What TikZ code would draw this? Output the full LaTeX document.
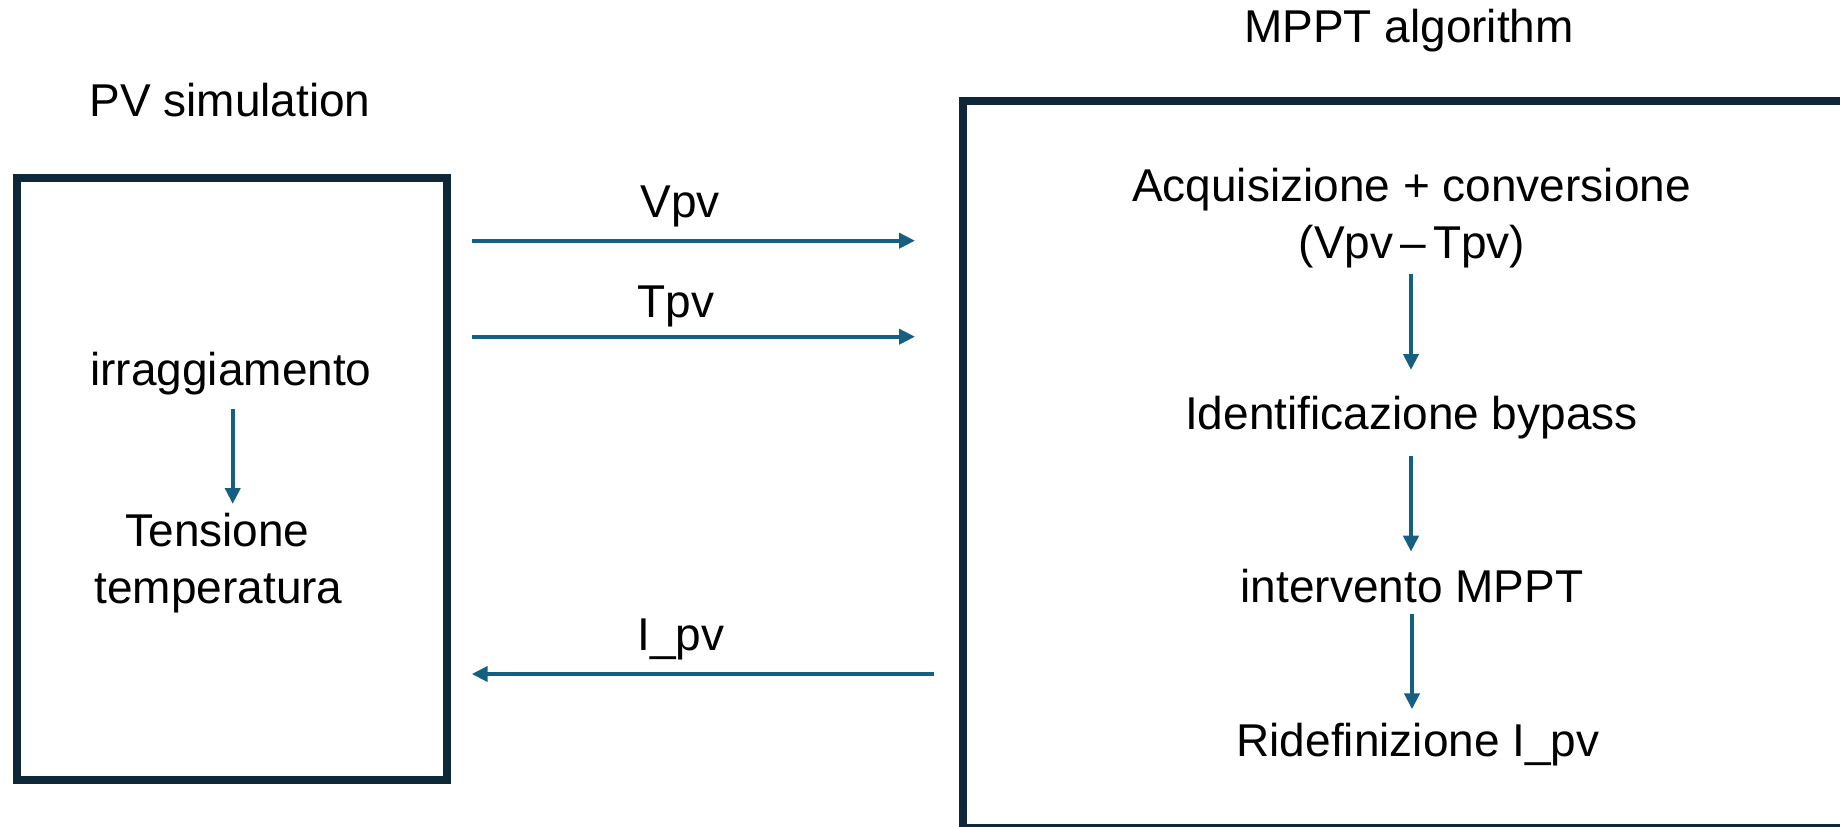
\documentclass[tikz,border=0pt]{standalone}
\usepackage{fontspec}
\setmainfont{Liberation Sans}
\usetikzlibrary{arrows.meta,calc}

\begin{document}
\begin{tikzpicture}[
  x=1pt, y=-1pt,
  >={Triangle[length=16pt,width=15pt]},
  panel/.style={draw=frame, line width=8pt, outer sep=0pt, inner sep=0pt},
  txt/.style={font=\fontsize{46}{56}\selectfont, text=black, inner sep=0pt, anchor=base},
  flow/.style={->, draw=flowblue, fill=flowblue, line width=4pt}
]

\definecolor{frame}{RGB}{14,40,58}
\definecolor{flowblue}{RGB}{21,96,130}

\fill[white] (0,0) rectangle (1840,827);
\useasboundingbox (0,0) rectangle (1840,827);

% the two blocks
\node[panel, minimum width=429.7pt, minimum height=602.5pt] (pv) at (232.15,478.75) {};
\node[panel, minimum width=907pt, minimum height=727.3pt] (mppt) at (1416.5,464.65) {};

\node[txt] (pvtitle) at (230,116.7) {PV simulation};
\node[txt] (mptitle) at (1409,42) {MPPT algorithm};

% PV side
\node[txt] (irr) at (231,385) {irraggiamento};
\node[txt] (ten) at (217.5,546.7) {Tensione};
\node[txt] (temp) at (218.5,603) {temperatura};
\draw[flow] ($(irr.base)+(1.7,24)$) -- ($(irr.base |- ten.base)+(1.7,-42.7)$);

% signals exchanged
\node[txt] (vpv) at (680,217) {Vpv};
\node[txt] (tpv) at (676,317.3) {Tpv};
\node[txt] (ipv) at (681,650.7) {I\_pv};
\draw[flow] ($(pv.east |- vpv.base)+(24.7,23.7)$) -- ($(mppt.west |- vpv.base)+(-48,23.7)$);
\draw[flow] ($(pv.east |- tpv.base)+(24.7,19.4)$) -- ($(mppt.west |- tpv.base)+(-48,19.4)$);
\draw[flow] ($(mppt.west |- ipv.base)+(-29,23.3)$) -- ($(pv.east |- ipv.base)+(24.7,23.3)$);

% algorithm steps
\node[txt] (acq) at (1411.5,201.7) {Acquisizione + conversione};
\node[txt] (acqb) at (1412,258.3) {(Vpv\kern7pt\textendash\kern7pt Tpv)};
\node[txt] (ident) at (1411.5,429) {Identificazione bypass};
\node[txt] (interv) at (1412,602.3) {intervento MPPT};
\node[txt] (ridef) at (1418,756.7) {Ridefinizione I\_pv};

\draw[flow] ($(acqb.base)+(-1,15.7)$) -- ($(acqb.base |- ident.base)+(-1,-59)$);
\draw[flow] ($(ident.base)+(-0.5,27)$) -- ($(ident.base |- interv.base)+(-0.5,-50.6)$);
\draw[flow] ($(interv.base)+(0,11.7)$) -- ($(interv.base |- ridef.base)+(0,-47.4)$);

\end{tikzpicture}
\end{document}
